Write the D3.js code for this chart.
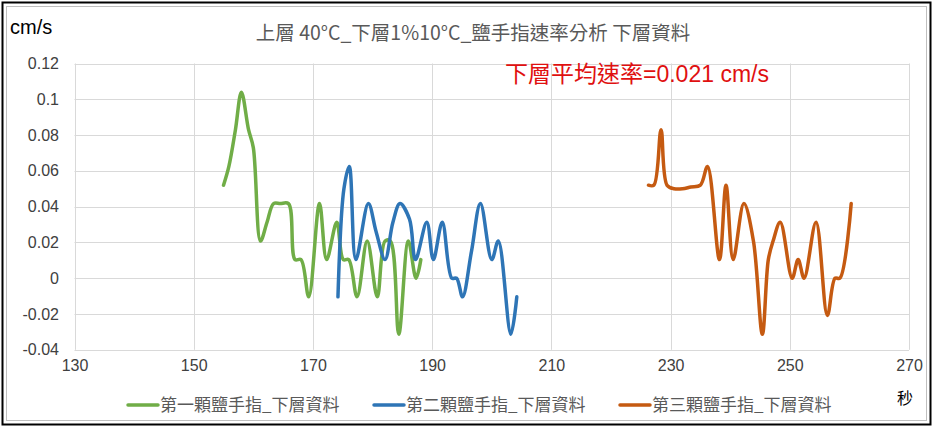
<!DOCTYPE html>
<html>
<head>
<meta charset="utf-8">
<script src="https://cdn.jsdelivr.net/npm/d3@7"></script>
<style>
  html, body { margin: 0; padding: 0; background: #fff; }
  svg { display: block; }
</style>
</head>
<body>
<svg id="chart" width="934" height="428"></svg>
<script>
// Time axis (seconds) and speed axis (cm/s)
const xTicks = [130, 150, 170, 190, 210, 230, 250, 270];
const yTicks = [-0.04, -0.02, 0, 0.02, 0.04, 0.06, 0.08, 0.1, 0.12];
const yTickLabels = ["-0.04", "-0.02", "0", "0.02", "0.04", "0.06", "0.08", "0.1", "0.12"];

// Finger 1
const finger1Time = [155.0, 155.9, 157.0, 158.0, 159.2, 160.0, 161.2, 162.3, 163.4, 164.5, 165.9, 167.0, 168.0, 169.3,
  171.1, 172.3, 174.0, 175.1, 176.0, 177.4, 179.1, 180.8, 182.1, 183.0, 184.4, 186.0, 187.3, 188.1];
const finger1Speed = [0.052, 0.0625, 0.083, 0.104, 0.083, 0.073, 0.0208, 0.0313, 0.0417, 0.0417, 0.0417, 0.0104, 0.0104, -0.0104,
  0.0417, 0.0104, 0.0313, 0.0104, 0.0104, -0.0104, 0.0208, -0.0104, 0.0208, 0.0208, -0.0313, 0.0208, 0, 0.0104];

// Finger 2
const finger2Time = [174.2, 175.2, 176.1, 177.2, 179.3, 180.6, 182.1, 183.4, 184.6, 186.2, 187.2, 189.1, 190.2, 191.7,
  193.3, 194.1, 195.1, 196.6, 198.1, 200.0, 201.1, 203.2, 204.2];
const finger2Speed = [-0.0104, 0.05, 0.0625, 0.0104, 0.0417, 0.026, 0.0104, 0.031, 0.0417, 0.033, 0.0104, 0.0313, 0.0104, 0.0313,
  0, 0, -0.0104, 0.015, 0.0417, 0.0104, 0.0208, -0.0313, -0.0104];

// Finger 3
const finger3Time = [226.3, 227.2, 228.4, 229.4, 230.6, 232.0, 233.4, 235.0, 236.2, 238.2, 239.3, 240.5, 242.3, 243.9,
  245.4, 246.4, 247.2, 248.4, 250.4, 251.4, 252.4, 254.4, 256.3, 257.6, 258.4, 260.3];
const finger3Speed = [0.052, 0.052, 0.083, 0.052, 0.05, 0.05, 0.051, 0.052, 0.0625, 0.0104, 0.052, 0.0104, 0.0417, 0.0208,
  -0.0313, 0.0104, 0.0208, 0.0313, 0, 0.0104, 0, 0.0313, -0.0208, 0, 0, 0.0417];

const seriesNames = ["第一顆鹽手指_下層資料", "第二顆鹽手指_下層資料", "第三顆鹽手指_下層資料"];
const seriesColors = ["#70ad47", "#2e75b6", "#c55a11"];

const series = [
  { name: seriesNames[0], color: seriesColors[0], pts: finger1Time.map((t, i) => [t, finger1Speed[i]]) },
  { name: seriesNames[1], color: seriesColors[1], pts: finger2Time.map((t, i) => [t, finger2Speed[i]]) },
  { name: seriesNames[2], color: seriesColors[2], pts: finger3Time.map((t, i) => [t, finger3Speed[i]]) }
];

const cjk = "'Noto Sans CJK TC', 'Noto Sans', sans-serif";
const num = "'Liberation Sans Narrow', 'Liberation Sans', 'Noto Sans CJK TC', sans-serif";
const latinFirst = "'Liberation Sans', 'Noto Sans CJK TC', sans-serif";

const svg = d3.select("#chart");

// frame
svg.append("rect").attr("x", 2.5).attr("y", 2.5).attr("width", 928).attr("height", 422)
  .attr("fill", "#fff").attr("stroke", "#000").attr("stroke-width", 2);
svg.append("rect").attr("x", 6.5).attr("y", 6.5).attr("width", 920).attr("height", 414)
  .attr("fill", "none").attr("stroke", "#bfbfbf").attr("stroke-width", 1);

const x = d3.scaleLinear().domain([130, 270]).range([74.5, 909]);
const y = d3.scaleLinear().domain([-0.04, 0.12]).range([349.8, 63.5]);

// gridlines
const grid = svg.append("g").attr("stroke", "#d9d9d9").attr("stroke-width", 1);
grid.selectAll("line.h").data(yTicks).join("line").attr("class", "h")
  .attr("x1", x(130)).attr("x2", x(270))
  .attr("y1", d => Math.round(y(d)) + 0.5).attr("y2", d => Math.round(y(d)) + 0.5);
grid.selectAll("line.v").data(xTicks).join("line").attr("class", "v")
  .attr("y1", y(0.12)).attr("y2", y(-0.04))
  .attr("x1", d => Math.round(x(d)) + 0.5).attr("x2", d => Math.round(x(d)) + 0.5);

// y axis labels
const yAxis = d3.axisLeft(y).tickValues(yTicks).tickSize(0).tickPadding(0)
  .tickFormat((d, i) => yTickLabels[i]);
const gy = svg.append("g").attr("transform", `translate(59,0)`).call(yAxis);
gy.select(".domain").remove();
gy.selectAll("text").attr("font-family", num).attr("font-size", 16).attr("fill", "#404040");

// x axis labels
const xAxis = d3.axisBottom(x).tickValues(xTicks).tickSize(0).tickPadding(0).tickFormat(d3.format("d"));
const gx = svg.append("g").attr("transform", `translate(0,360)`).call(xAxis);
gx.select(".domain").remove();
gx.selectAll("text").attr("font-family", num).attr("font-size", 16).attr("fill", "#404040");

// series lines
const line = d3.line().x(d => x(d[0])).y(d => y(d[1])).curve(d3.curveCatmullRom.alpha(0.5));
svg.append("g").selectAll("path").data(series).join("path")
  .attr("d", d => line(d.pts))
  .attr("fill", "none").attr("stroke", d => d.color).attr("stroke-width", 3.5)
  .attr("stroke-linejoin", "round").attr("stroke-linecap", "round");

// title and unit labels
svg.append("text").attr("x", 473).attr("y", 40).attr("text-anchor", "middle")
  .attr("font-family", cjk).attr("font-size", 19.5).attr("fill", "#595959")
  .text("上層 40°C_下層1%10°C_鹽手指速率分析 下層資料");
svg.append("text").attr("x", 10).attr("y", 34)
  .attr("font-family", latinFirst).attr("font-size", 20).attr("fill", "#000").text("cm/s");
svg.append("text").attr("x", 505).attr("y", 82)
  .attr("font-family", latinFirst).attr("font-size", 23).attr("fill", "#e01010")
  .text("下層平均速率=0.021 cm/s");
svg.append("text").attr("x", 897).attr("y", 404)
  .attr("font-family", cjk).attr("font-size", 16).attr("fill", "#000").text("秒");

// legend
const legendX = [128, 374, 620];
const lg = svg.append("g").selectAll("g").data(series).join("g")
  .attr("transform", (d, i) => `translate(${legendX[i]},405)`);
lg.append("line").attr("x1", 0).attr("x2", 30).attr("y1", 0).attr("y2", 0)
  .attr("stroke", d => d.color).attr("stroke-width", 3.5).attr("stroke-linecap", "round");
lg.append("text").attr("x", 32).attr("y", 6)
  .attr("font-family", cjk).attr("font-size", 17).attr("fill", "#595959")
  .text(d => d.name);
</script>
</body>
</html>
